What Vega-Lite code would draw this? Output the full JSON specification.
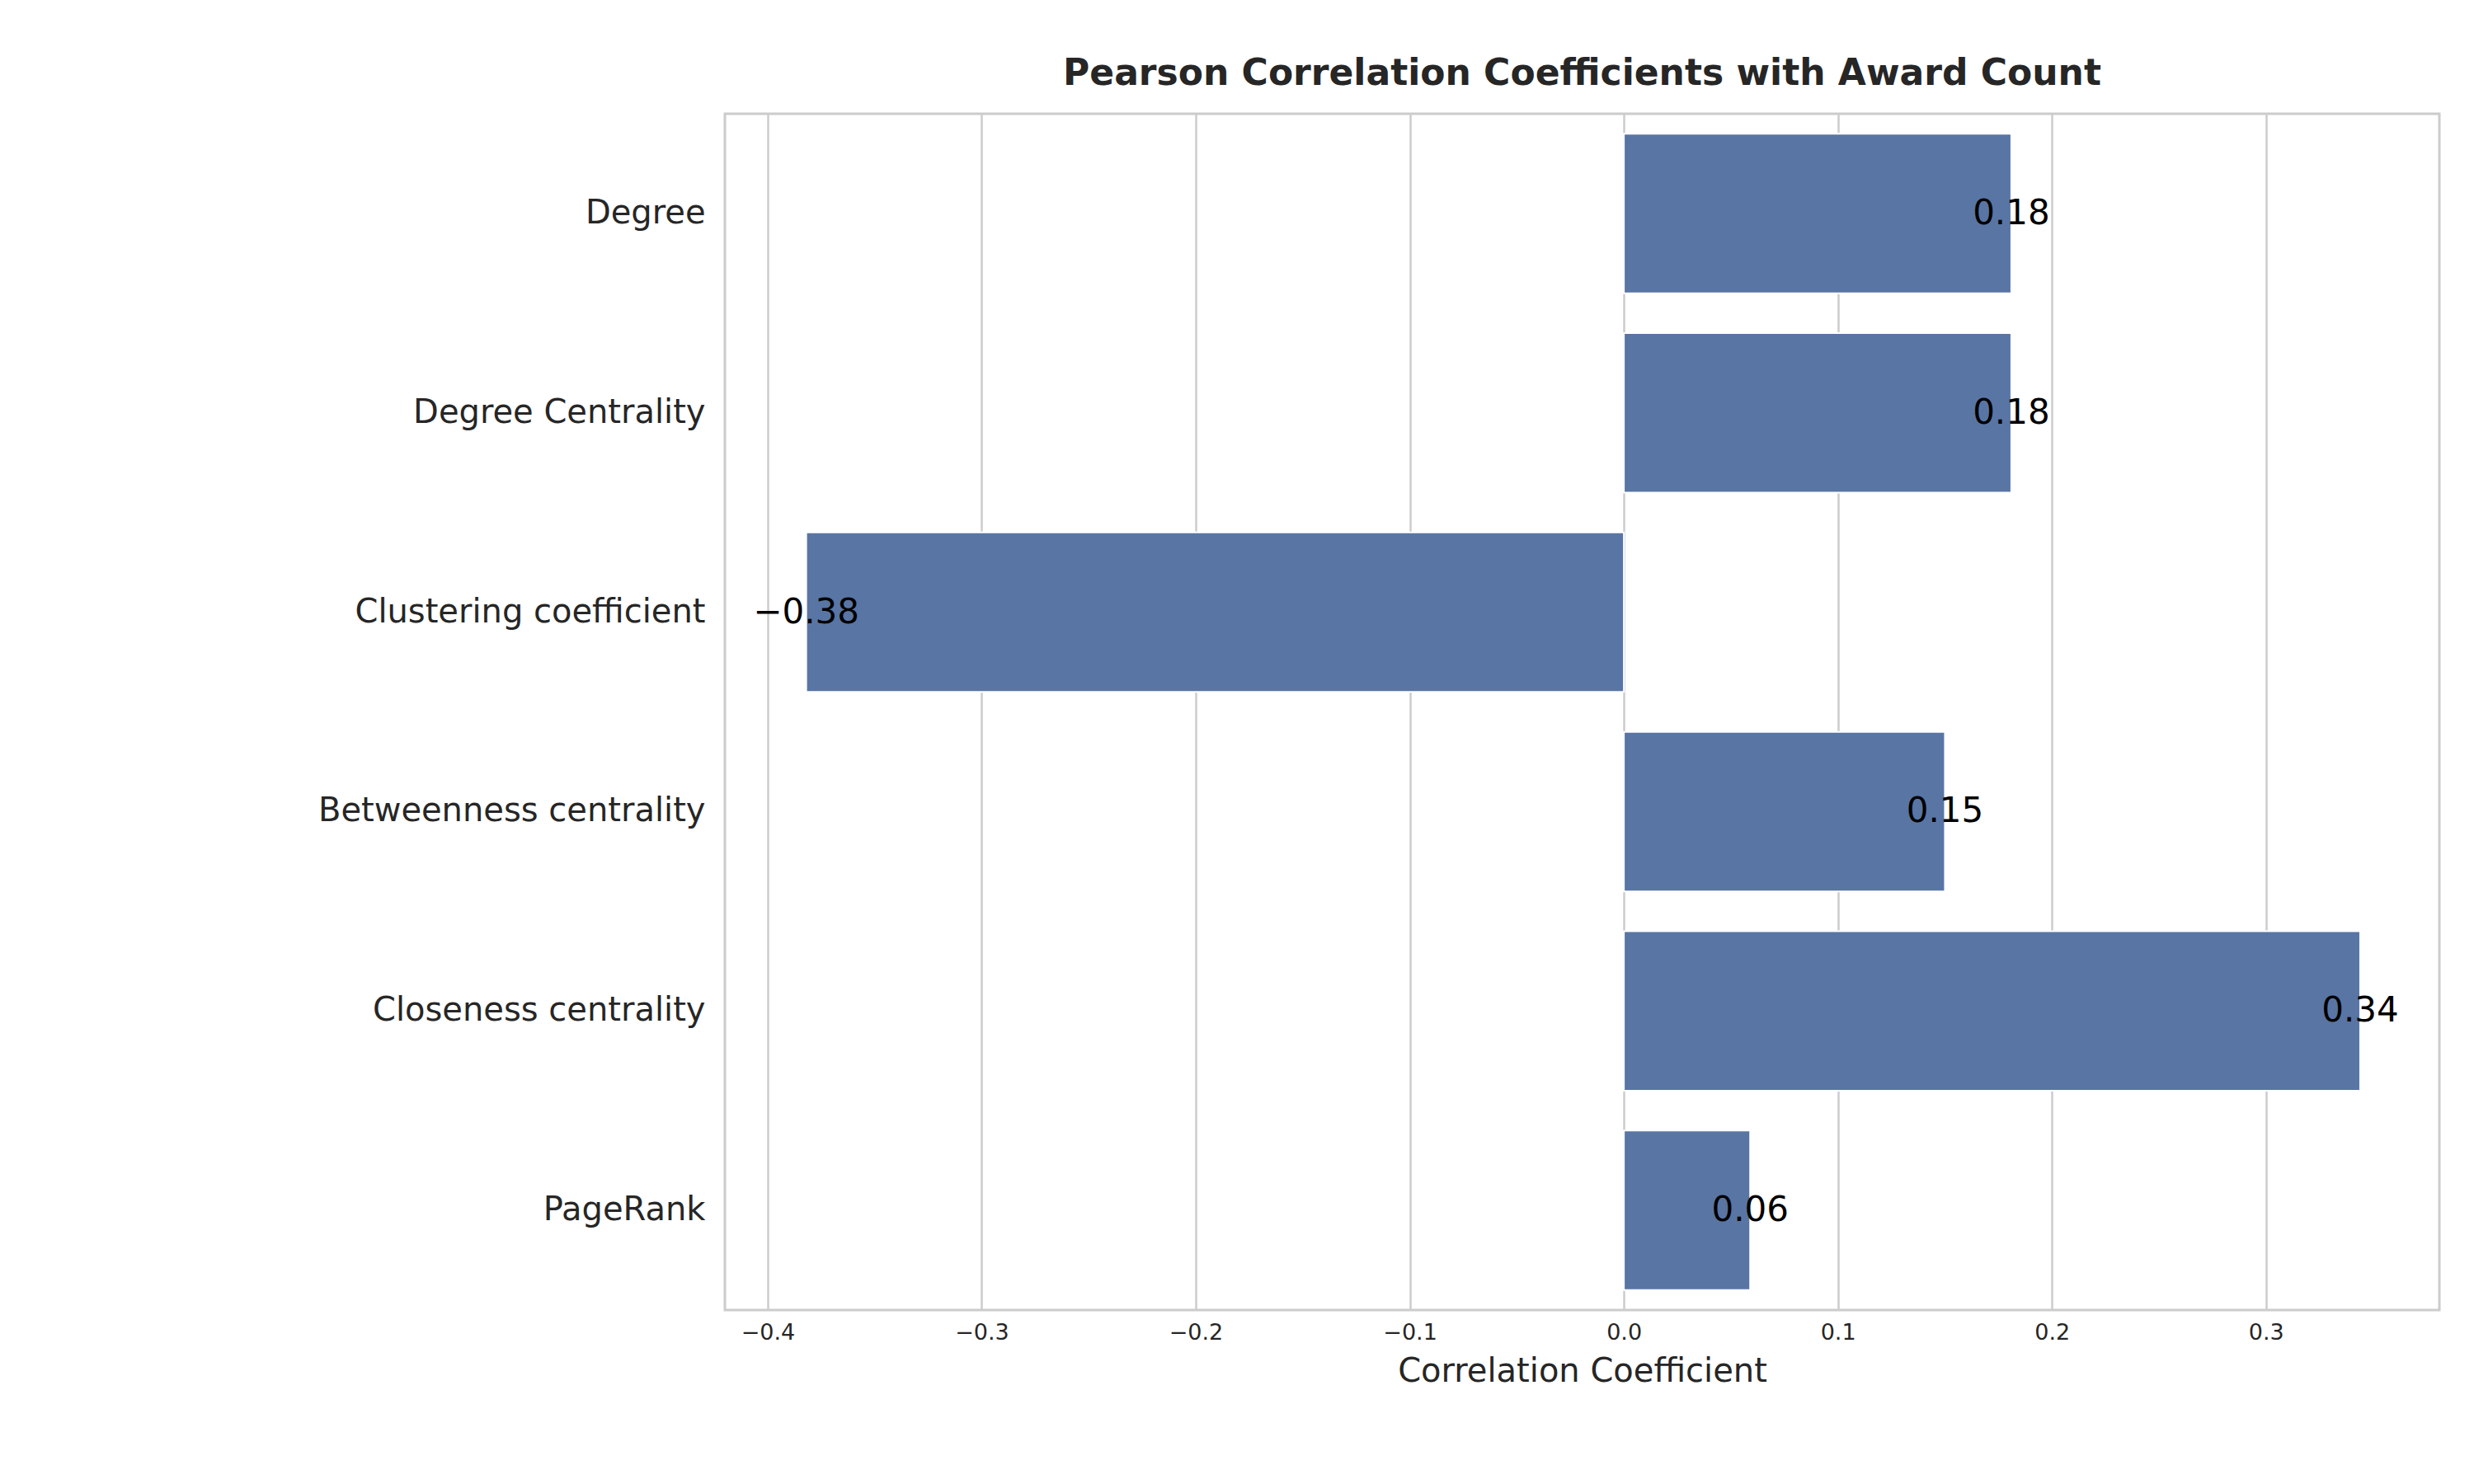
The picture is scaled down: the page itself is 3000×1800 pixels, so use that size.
{
  "$schema": "https://vega.github.io/schema/vega-lite/v6.json",
  "width": 2079,
  "height": 1451,
  "autosize": "none",
  "padding": {"left": 879, "top": 138, "right": 42, "bottom": 211},
  "background": "white",
  "config": {
    "font": "DejaVu Sans",
    "view": {"stroke": "#cccccc", "strokeWidth": 3}
  },
  "title": {
    "text": "Pearson Correlation Coefficients with Award Count",
    "fontSize": 44,
    "fontWeight": "bold",
    "color": "#262626",
    "anchor": "middle",
    "offset": 26
  },
  "data": {
    "values": [
      {"metric": "Degree", "corr": 0.181},
      {"metric": "Degree Centrality", "corr": 0.181},
      {"metric": "Clustering coefficient", "corr": -0.382},
      {"metric": "Betweenness centrality", "corr": 0.15},
      {"metric": "Closeness centrality", "corr": 0.344},
      {"metric": "PageRank", "corr": 0.059}
    ]
  },
  "encoding": {
    "y": {
      "field": "metric",
      "type": "nominal",
      "sort": null,
      "scale": {"paddingInner": 0.2, "paddingOuter": 0.1},
      "axis": {
        "title": null,
        "ticks": false,
        "domain": false,
        "labelFontSize": 40,
        "labelLimit": 0,
        "labelColor": "#262626",
        "labelPadding": 24
      }
    },
    "x": {
      "field": "corr",
      "type": "quantitative",
      "scale": {"domain": [-0.42, 0.381], "nice": false, "zero": false},
      "axis": {
        "title": "Correlation Coefficient",
        "titleFontSize": 40,
        "titleFontWeight": "normal",
        "titleColor": "#262626",
        "titlePadding": 14,
        "values": [-0.4, -0.3, -0.2, -0.1, 0, 0.1, 0.2, 0.3],
        "format": ".1f",
        "labelFontSize": 27,
        "labelColor": "#262626",
        "labelPadding": 14,
        "ticks": false,
        "domain": false,
        "grid": true,
        "gridColor": "#cccccc",
        "gridWidth": 2.5
      }
    }
  },
  "layer": [
    {"mark": {"type": "bar", "color": "#5975a4", "stroke": "white", "strokeWidth": 2}},
    {
      "mark": {"type": "text", "fontSize": 42, "color": "black", "align": "center", "baseline": "middle"},
      "encoding": {"text": {"field": "corr", "type": "quantitative", "format": ".2f"}}
    }
  ]
}
